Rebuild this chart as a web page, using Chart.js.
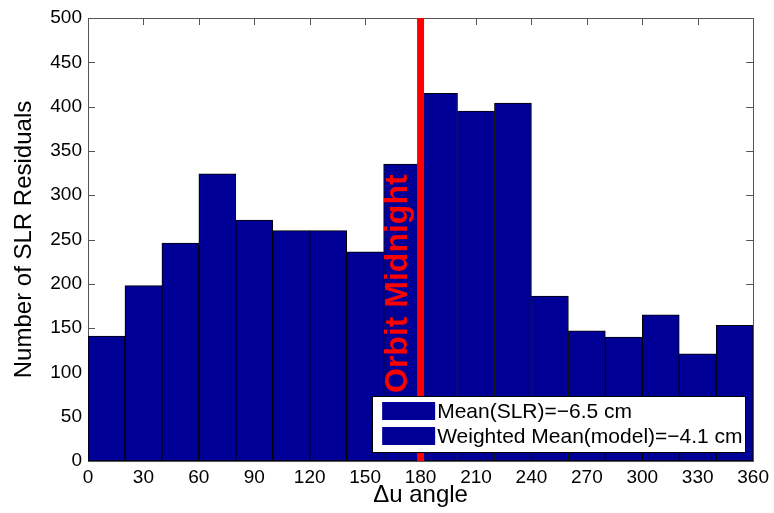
<!DOCTYPE html>
<html>
<head>
<meta charset="utf-8">
<script src="https://cdn.jsdelivr.net/npm/chart.js@4/dist/chart.umd.min.js"></script>
<style>
  html, body { margin: 0; padding: 0; background: #fff; }
  #wrap { width: 774px; height: 513px; }
</style>
</head>
<body>
<div id="wrap"><canvas id="histChart" width="774" height="513"></canvas></div>
<script>
// ---- data ----
const binCenters = [10, 30, 50, 70, 90, 110, 130, 150, 170, 190, 210, 230, 250, 270, 290, 310, 330, 350];
const counts = [141, 198, 246, 324, 272, 260, 260, 236, 335, 415, 395, 404, 186, 147, 140, 165, 121, 153];
const xTicks = [0, 30, 60, 90, 120, 150, 180, 210, 240, 270, 300, 330, 360];
const yTicks = [0, 50, 100, 150, 200, 250, 300, 350, 400, 450, 500];
const legendLabels = ['Mean(SLR)=\u22126.5 cm', 'Weighted Mean(model)=\u22124.1 cm'];
const markerAngle = 180;
const markerLabel = 'Orbit Midnight';

const FONT = "'Liberation Sans', Arial, sans-serif";
const BAR_COLOR = '#000096';

// ========== axes box + inward ticks (drawn under the bars) ==========
const boxPlugin = {
  id: 'boxTicks',
  beforeDatasetsDraw(chart) {
    const { ctx, chartArea: a, scales } = chart;
    ctx.save();
    ctx.strokeStyle = '#555';
    ctx.lineWidth = 1;
    const len = 7;
    ctx.beginPath();
    yTicks.forEach(v => {
      const y = Math.round(scales.y.getPixelForValue(v)) + 0.5;
      ctx.moveTo(a.left, y); ctx.lineTo(a.left + len, y);
      ctx.moveTo(a.right, y); ctx.lineTo(a.right - len, y);
    });
    xTicks.forEach(v => {
      const x = Math.round(scales.x.getPixelForValue(v)) + 0.5;
      ctx.moveTo(x, a.bottom); ctx.lineTo(x, a.bottom - len);
      ctx.moveTo(x, a.top); ctx.lineTo(x, a.top + len);
    });
    ctx.stroke();
    ctx.strokeRect(Math.round(a.left) + 0.5, Math.round(a.top) + 0.5,
      Math.round(a.right - a.left), Math.round(a.bottom - a.top));
    ctx.restore();
  }
};

// ========== red marker line, its label, and the legend box ==========
const overlayPlugin = {
  id: 'overlay',
  afterDatasetsDraw(chart) {
    const { ctx, chartArea: a, scales } = chart;
    const x = scales.x.getPixelForValue(markerAngle);
    ctx.save();
    ctx.strokeStyle = '#ff0000';
    ctx.lineWidth = 7;
    ctx.beginPath();
    ctx.moveTo(x, a.top);
    ctx.lineTo(x, a.bottom);
    ctx.stroke();

    ctx.translate(x - 14, a.bottom - 68);
    ctx.rotate(-Math.PI / 2);
    ctx.fillStyle = '#ff0000';
    ctx.font = 'bold 32px ' + FONT;
    ctx.textAlign = 'left';
    ctx.textBaseline = 'alphabetic';
    ctx.fillText(markerLabel, 0, 0);
    ctx.restore();
  },
  afterDraw(chart) {
    const { ctx, chartArea: a } = chart;
    const w = 373, h = 56;
    const left = a.right - 8 - w;
    const top = a.bottom - 9 - h;
    ctx.save();
    ctx.fillStyle = '#fff';
    ctx.fillRect(left, top, w, h);
    ctx.strokeStyle = '#000';
    ctx.lineWidth = 1;
    ctx.strokeRect(Math.round(left) + 0.5, Math.round(top) + 0.5, w, h);
    ctx.font = '21px ' + FONT;
    ctx.textBaseline = 'middle';
    ctx.textAlign = 'left';
    legendLabels.forEach((label, i) => {
      const cy = top + 15 + i * 25;
      ctx.fillStyle = BAR_COLOR;
      ctx.fillRect(left + 10, cy - 9, 53, 18);
      ctx.fillStyle = '#000';
      ctx.fillText(label, left + 65, cy + 1);
    });
    ctx.restore();
  }
};

const ctx = document.getElementById('histChart').getContext('2d');
const histChart = new Chart(ctx, {
  type: 'bar',
  data: {
    datasets: [{
      label: legendLabels[0],
      data: binCenters.map((c, i) => ({ x: c, y: counts[i] })),
      backgroundColor: BAR_COLOR,
      borderColor: '#000',
      borderWidth: 1,
      borderSkipped: false,
      barPercentage: 1,
      categoryPercentage: 1
    }]
  },
  options: {
    responsive: false,
    animation: false,
    layout: { padding: { top: 18, right: 20, left: 0, bottom: 0 } },
    plugins: {
      legend: { display: false },
      tooltip: { enabled: false }
    },
    scales: {
      x: {
        type: 'linear',
        min: 0,
        max: 360,
        offset: false,
        grid: { display: false, drawTicks: false },
        border: { display: false },
        afterBuildTicks: s => { s.ticks = xTicks.map(v => ({ value: v })); },
        afterFit: s => { s.height = 52; },
        ticks: {
          padding: 5,
          maxRotation: 0,
          color: '#000',
          font: { family: FONT, size: 19 }
        },
        title: {
          display: true,
          text: '\u0394u angle',
          color: '#000',
          padding: { top: 0, bottom: 3 },
          font: { family: FONT, size: 24 }
        }
      },
      y: {
        min: 0,
        max: 500,
        grid: { display: false, drawTicks: false },
        border: { display: false },
        afterBuildTicks: s => { s.ticks = yTicks.map(v => ({ value: v })); },
        afterFit: s => { s.width = 88; },
        ticks: {
          padding: 6,
          color: '#000',
          font: { family: FONT, size: 19 }
        },
        title: {
          display: true,
          text: 'Number of SLR Residuals',
          color: '#000',
          padding: { top: 10, bottom: 0 },
          font: { family: FONT, size: 24 }
        }
      }
    }
  },
  plugins: [boxPlugin, overlayPlugin]
});
</script>
</body>
</html>
